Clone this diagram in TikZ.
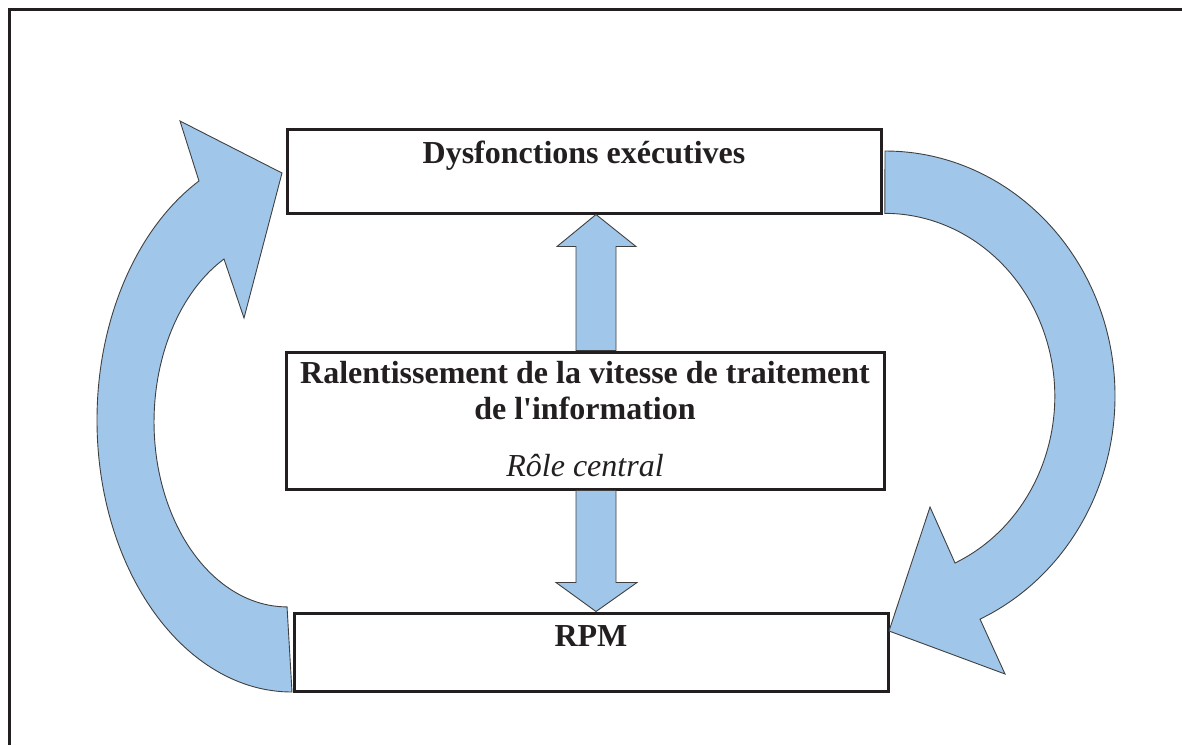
\documentclass[tikz,border=0pt]{standalone}
\usepackage{fontspec}
\setmainfont{Liberation Serif}
\usetikzlibrary{positioning,calc}
\definecolor{flowblue}{HTML}{A0C7EA}
\definecolor{ink}{HTML}{231F20}

\begin{document}
\begin{tikzpicture}[x=1pt,y=1pt,
    box/.style = {rectangle,draw=ink,line width=3pt,inner sep=0pt},
    lbl/.style = {inner sep=0pt,text=ink,align=center,
        font=\fontsize{32}{36}\selectfont\bfseries},
    flow/.style = {fill=flowblue,draw=black!75,line width=0.9pt,line join=miter}]
  \useasboundingbox (0,0) rectangle (1182,-745);
  % outer frame (cut on the right and at the bottom)
  \draw[ink,line width=3pt] (9,-745) -- (9,-9) -- (1182,-9);

  % the three boxes
  \node[box,minimum width=594pt,minimum height=84pt] (dys) at (584,-171) {};
  \node[box,minimum width=598pt,minimum height=137pt] (mid) at (585,-420.5) {};
  \node[box,minimum width=594pt,minimum height=78pt] (rpm) at (591,-652) {};

  \node[lbl,anchor=base] (dystxt) at ($(dys.north)+(0,-36)$) {Dysfonctions exécutives};
  \node[lbl,anchor=north] (midtxt) at ($(mid.north)+(0,-11)$)
    {Ralentissement de la vitesse de traitement\\de l\textquotesingle information};
  \node[lbl,anchor=base,font=\fontsize{32}{36}\selectfont\itshape] (role)
    at ($(mid.south)+(0,14)$) {Rôle central};
  \node[lbl,anchor=base] (rpmtxt) at ($(rpm.north)+(0,-35)$) {RPM};

  % vertical arrows from the central box
  \draw[flow] ($(mid.north)+(-9,0)$) -- ++(0,104) -- ++(-19,0)
    -- ($(dys.south)+(12,0)$) -- ($(mid.north)+(51,104)$) -- ++(-20,0)
    -- ($(mid.north)+(31,0)$) -- cycle;
  \draw[flow] ($(mid.south)+(-9,0)$) -- ++(0,-92) -- ++(-20,0)
    -- ($(rpm.north)+(5,0)$) -- ($(mid.south)+(52,-92)$) -- ++(-21,0)
    -- ($(mid.south)+(31,0)$) -- cycle;

  % curved arrow on the right: Dysfonctions -> RPM
  \draw[flow] (885,-151) arc[start angle=90,end angle=-65.6,x radius=230pt,y radius=245pt]
    -- (1005,-674) -- (889,-631) -- (930,-507) -- (955,-563)
    arc[start angle=-65.6,end angle=90,x radius=170pt,y radius=183pt] -- cycle;

  % curved arrow on the left: RPM -> Dysfonctions
  \draw[flow] (292,-692) arc[start angle=-90,end angle=-241.5,x radius=195pt,y radius=272pt]
    -- (180,-121) -- (282,-173) -- (244,-318) -- (224,-259)
    arc[start angle=-241.7,end angle=-90,x radius=133pt,y radius=185pt] -- cycle;
\end{tikzpicture}
\end{document}
